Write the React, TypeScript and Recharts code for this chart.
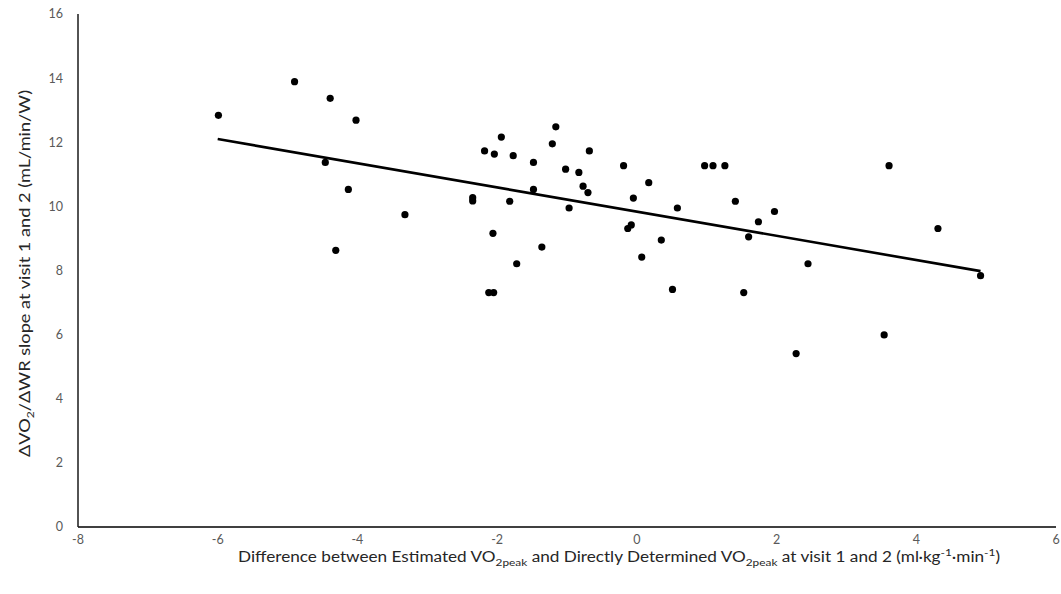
import { ScatterChart, Scatter, XAxis, YAxis, ReferenceLine } from "recharts";

// difference estimated - direct VO2peak (x) vs VO2/WR slope (y)
const diffX = [
  -5.99, -4.9, -4.39, -4.02, -4.46, -4.13, -4.31, -3.32, -2.35, -2.35,
  -2.18, -2.04, -1.94, -1.77, -2.06, -1.82, -2.12, -2.05, -1.72, -1.48,
  -1.48, -1.36, -1.21, -1.16, -1.02, -0.97, -0.83, -0.77, -0.7, -0.68,
  -0.19, -0.05, 0.17, -0.13, -0.08, 0.35, 0.07, 0.58, 0.51, 0.97,
  1.09, 1.26, 1.41, 1.74, 1.97, 1.6, 1.53, 2.45, 2.28, 3.61,
  3.54, 4.31, 4.92,
];
const slopeY = [
  12.84, 13.89, 13.37, 12.69, 11.37, 10.53, 8.63, 9.74, 10.27, 10.17,
  11.73, 11.63, 12.16, 11.58, 9.16, 10.16, 7.31, 7.31, 8.21, 11.37,
  10.53, 8.73, 11.95, 12.48, 11.16, 9.95, 11.06, 10.63, 10.43, 11.73,
  11.27, 10.26, 10.74, 9.31, 9.42, 8.95, 8.42, 9.95, 7.41, 11.27,
  11.27, 11.27, 10.16, 9.52, 9.84, 9.05, 7.31, 8.21, 5.41, 11.27,
  5.99, 9.31, 7.84,
];

// linear trendline ends
const trendX = [-6.0, 4.92];
const trendY = [12.1, 7.98];

const xTicks = [-8, -6, -4, -2, 0, 2, 4, 6];
const yTicks = [0, 2, 4, 6, 8, 10, 12, 14, 16];

const points = diffX.map((x, i) => ({ x, y: slopeY[i] }));
const FONT = "Lato, 'Noto Sans', sans-serif";
const tickStyle = { fill: "#595959", fontSize: 12.5, fontFamily: FONT };

const Dot = (props: any) => <circle cx={props.cx} cy={props.cy} r={3.6} fill="#000" />;

function XTitle() {
  return (
    <text
      x={238}
      y={562}
      fontFamily={FONT}
      fontSize={14.5}
      fill="#262626"
      textLength={762}
      lengthAdjust="spacingAndGlyphs"
    >
      <tspan>Difference between Estimated VO</tspan>
      <tspan fontSize={10} dy={4}>2peak</tspan>
      <tspan dy={-4}> and Directly Determined VO</tspan>
      <tspan fontSize={10} dy={4}>2peak</tspan>
      <tspan dy={-4}> at visit 1 and 2 (ml·kg</tspan>
      <tspan fontSize={10} dy={-6}>-1</tspan>
      <tspan dy={6}>·min</tspan>
      <tspan fontSize={10} dy={-6}>-1</tspan>
      <tspan dy={6}>)</tspan>
    </text>
  );
}

function YTitle() {
  return (
    <text
      x={0}
      y={0}
      transform="translate(30, 457) rotate(-90)"
      fontFamily={FONT}
      fontSize={15}
      fill="#262626"
      textLength={367}
      lengthAdjust="spacingAndGlyphs"
    >
      <tspan>ΔVO</tspan>
      <tspan fontSize={10} dy={4}>2</tspan>
      <tspan dy={-4}>/ΔWR slope at visit 1 and 2 (mL/min/W)</tspan>
    </text>
  );
}

export default function App() {
  return (
    <div style={{ position: "absolute", left: 0, top: 0, background: "#fff" }}>
      <ScatterChart width={1061} height={594} margin={{ top: 14, right: 5, left: 0, bottom: 0 }}>
        <XAxis
          type="number"
          dataKey="x"
          domain={[-8, 6]}
          ticks={xTicks}
          tickLine={false}
          axisLine={{ stroke: "#404040", strokeWidth: 2 }}
          tick={tickStyle}
          height={67}
          tickMargin={2}
          interval={0}
        />
        <YAxis
          type="number"
          dataKey="y"
          domain={[0, 16]}
          ticks={yTicks}
          tickLine={false}
          axisLine={{ stroke: "#1a1a1a", strokeWidth: 1.5 }}
          tick={tickStyle}
          width={78}
          tickMargin={9}
          interval={0}
        />
        <ReferenceLine
          segment={[
            { x: trendX[0], y: trendY[0] },
            { x: trendX[1], y: trendY[1] },
          ]}
          stroke="#000"
          strokeWidth={2.6}
          ifOverflow="visible"
        />
        <Scatter data={points} shape={Dot} isAnimationActive={false} />
      </ScatterChart>
      <svg width={1061} height={594} style={{ position: "absolute", left: 0, top: 0, pointerEvents: "none" }}>
        <XTitle />
        <YTitle />
      </svg>
    </div>
  );
}
